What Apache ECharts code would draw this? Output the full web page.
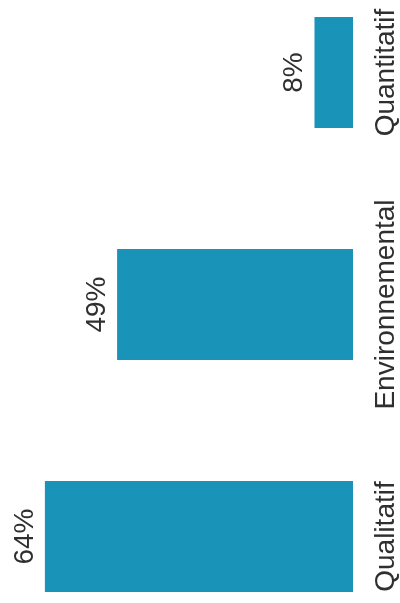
<!DOCTYPE html>
<html>
<head>
<meta charset="utf-8">
<script src="https://cdn.jsdelivr.net/npm/echarts@6/dist/echarts.min.js"></script>
<style>html,body{margin:0;padding:0;background:#fff}#c{width:400px;height:603px}</style>
</head>
<body>
<div id="c"></div>
<script>
var categories = ['Qualitatif', 'Environnemental', 'Quantitatif'];
var values = [64, 49, 8];

var chart = echarts.init(document.getElementById('c'), null, {renderer: 'canvas'});
chart.setOption({
  animation: false,
  backgroundColor: '#ffffff',
  grid: {left: 16, right: 43, top: 72.5, bottom: 66.5, containLabel: false},
  xAxis: {
    type: 'value', inverse: true, min: 0, max: 70,
    show: false
  },
  yAxis: {
    type: 'category', data: categories, position: 'right',
    boundaryGap: false,
    axisLine: {show: false}, axisTick: {show: false}, splitLine: {show: false},
    axisLabel: {
      interval: 0, rotate: 90, margin: 19,
      fontFamily: 'Liberation Sans, Arial, sans-serif', fontSize: 28, color: '#2f2f2f'
    }
  },
  series: [{
    type: 'bar', data: values, barWidth: 111,
    itemStyle: {color: '#1a93b8'},
    label: {
      show: true, position: 'left', distance: 6, rotate: 90,
      align: 'center', verticalAlign: 'bottom',
      formatter: '{c}%',
      fontFamily: 'Liberation Sans, Arial, sans-serif', fontSize: 28, color: '#2f2f2f'
    }
  }]
});
</script>
</body>
</html>
